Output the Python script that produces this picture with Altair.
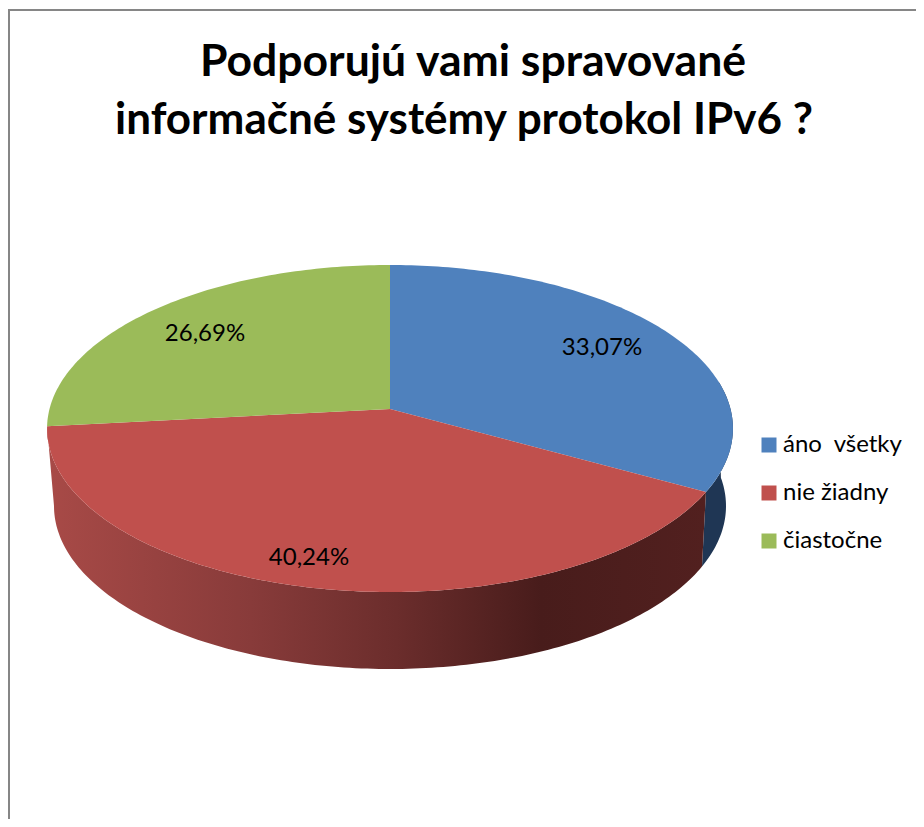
import math
import altair as alt

categories = ["áno\u00a0 všetky", "nie žiadny", "čiastočne"]
shares = [33.07, 40.24, 26.69]
labels = ["33,07%", "40,24%", "26,69%"]
colors = ["#4F81BD", "#C0504D", "#9BBB59"]
title_lines = ["Podporujú vami spravované", "informačné systémy protokol IPv6 ?"]

W, H = 908, 811
CX, CY = 382, 401      # pie hub, chart pixels
K, BY = 0.1193, 161.2  # perspective of the tilted disc
AX = 340.5
BCY, BA, BB = 498, 336, 163  # lower rim


def top(deg):
    u, v = math.sin(math.radians(deg)), math.cos(math.radians(deg))
    d = 1 + K * v
    return [CX + AX * u / d, CY - BY * v / d]


def rim(deg):
    t = math.radians(deg)
    return [CX + BA * math.sin(t), BCY - BB * math.cos(t)]


def arc(fn, a, b):
    n = max(2, int(abs(b - a)) + 1)
    return [fn(a + (b - a) * i / (n - 1)) for i in range(n)]


def feature(ring, name):
    ring = ring + [ring[0]]
    return {"type": "Feature", "properties": {"name": name},
            "geometry": {"type": "Polygon", "coordinates": [ring]}}


edges = [0]
for s in shares:
    edges.append(edges[-1] + s * 3.6 / sum(shares) * 100)

tops = [feature([[CX, CY]] + arc(top, edges[i], edges[i + 1]), categories[i]) for i in range(3)]

proj = alt.Projection(type="identity", scale=1, translate=[0, 0])

blue_wall = feature(arc(top, 80, edges[1]) + arc(rim, 111.8, 80), categories[0])
red_wall = feature(arc(top, edges[1], edges[2]) + arc(rim, 270, 111.8), categories[1])

wall_blue = alt.Chart(alt.Data(values=[blue_wall])).mark_geoshape(
    fill="#1F3654", stroke=None, strokeWidth=0).project(**proj.to_dict())
wall_red = alt.Chart(alt.Data(values=[red_wall])).mark_geoshape(
    fill=alt.LinearGradient(
        gradient="linear", x1=0, x2=1, y1=0, y2=0,
        stops=[
            alt.GradientStop(offset=0, color="#A84A47"),
            alt.GradientStop(offset=0.31, color="#883B3A"),
            alt.GradientStop(offset=0.53, color="#6B2D2C"),
            alt.GradientStop(offset=0.75, color="#481C1B"),
            alt.GradientStop(offset=1, color="#52201F"),
        ]),
    strokeWidth=0).project(**proj.to_dict())

top_layer = alt.Chart(alt.Data(values=tops)).mark_geoshape(strokeWidth=0).encode(
    fill=alt.Fill(
        "properties.name:N",
        scale=alt.Scale(domain=categories, range=colors),
        legend=alt.Legend(
            title=None, orient="none", legendX=749, legendY=425,
            symbolType="square", symbolSize=225, symbolStrokeWidth=0,
            labelFont="Lato", labelFontSize=24, labelColor="#000000",
            labelOffset=2, rowPadding=24, labelLimit=200,
        ),
    )
).project(**proj.to_dict())

frame_top = alt.Chart(alt.Data(values=[{"a": 1}])).mark_rule(color="#868686", strokeWidth=2).encode(
    x=alt.value(0), x2=alt.value(W), y=alt.value(2))
frame_left = alt.Chart(alt.Data(values=[{"a": 1}])).mark_rule(color="#868686", strokeWidth=2).encode(
    x=alt.value(1), y=alt.value(2), y2=alt.value(H))


def text(s, x, y, size, bold=False):
    return alt.Chart(alt.Data(values=[{"t": s}])).mark_text(
        font="Lato", fontSize=size, fontWeight="bold" if bold else "normal",
        color="#000000", align="center", baseline="middle",
    ).encode(text="t:N", x=alt.value(x), y=alt.value(y))


layers = [frame_top, frame_left, wall_blue, wall_red, top_layer,
          text(labels[0], 594, 340, 24), text(labels[1], 301, 550, 24), text(labels[2], 197, 326, 24),
          text(title_lines[0], 465, 55, 44.5, True), text(title_lines[1], 456, 113, 44, True)]

chart = alt.layer(*layers).properties(
    width=W, height=H, padding=0, autosize=alt.AutoSizeParams(type="none")
).configure_view(stroke=None)

chart.save("out.html", embed_options={"renderer": "svg", "actions": False})
